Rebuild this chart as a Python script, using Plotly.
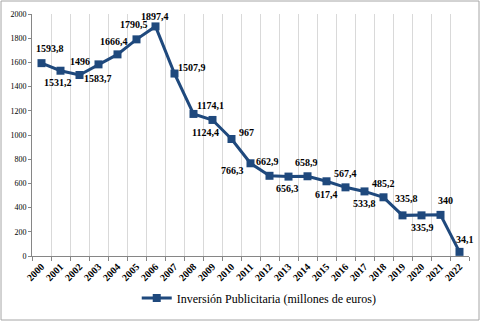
import plotly.graph_objects as go

years = [str(y) for y in range(2000, 2023)]
values = [1593.8, 1531.2, 1496, 1583.7, 1666.4, 1790.5, 1897.4, 1507.9, 1174.1, 1124.4,
          967, 766.3, 662.9, 656.3, 658.9, 617.4, 567.4, 533.8, 485.2, 335.8, 335.9, 340, 34.1]
series_name = "Inversión Publicitaria (millones de euros)"
y_ticks = [0, 200, 400, 600, 800, 1000, 1200, 1400, 1600, 1800, 2000]

# label offsets in pixels (dx right, dy down)
label_offsets = [(8, -15), (-3, 12), (0, -13), (-1, 14), (-4, -13), (-3, -15), (-1, -10),
                 (17, -6), (17, -8), (-7, 13), (15, -6), (-18, 7), (-2, -14), (-1, 12),
                 (-1, -14), (0, 13), (0, -14), (0, 12), (0, -14), (4, -17), (1, 12),
                 (5, -14), (5, -12)]

def fmt(v):
    s = ("%.1f" % v).rstrip("0").rstrip(".")
    return s.replace(".", ",")

FONT = "Liberation Serif, Times New Roman, serif"
COLOR = "#1F497D"

fig = go.Figure()
fig.add_trace(go.Scatter(
    x=years, y=values, mode="lines+markers", name=series_name,
    line=dict(color=COLOR, width=3),
    marker=dict(symbol="square", size=8, color=COLOR),
))

annotations = []
for i, (v, (dx, dy)) in enumerate(zip(values, label_offsets)):
    annotations.append(dict(x=i, y=v, xref="x", yref="y", text="<b>%s</b>" % fmt(v),
                            showarrow=False, xshift=dx, yshift=-dy,
                            font=dict(family=FONT, size=10, color="#000000")))

fig.update_layout(
    width=482, height=322,
    margin=dict(l=32, r=13, t=14, b=66, autoexpand=False),
    paper_bgcolor="white", plot_bgcolor="white",
    font=dict(family=FONT, color="#000000"),
    showlegend=True,
    annotations=annotations,
    shapes=[dict(type="rect", xref="paper", yref="paper", layer="below",
                 x0=-0.0709, x1=1.0229, y0=-0.2645, y1=1.0537,
                 line=dict(color="#A6A6A6", width=1))],
    legend=dict(orientation="h", x=0.52, xanchor="center", y=-0.174, yanchor="middle",
                font=dict(family=FONT, size=12), itemwidth=30),
    xaxis=dict(
        type="category", tickson="boundaries", showgrid=True, gridcolor="#D9D9D9",
        gridwidth=1, showline=True, linecolor="#868686", ticks="outside", ticklen=4,
        tickcolor="#868686", tickangle=-45, automargin=False,
        tickvals=years, ticktext=["<b>%s</b>" % y for y in years],
        tickfont=dict(family=FONT, size=10, color="#000000"),
        range=[-0.5, len(years) - 0.5],
    ),
    yaxis=dict(
        range=[0, 2000], tickvals=y_ticks, showgrid=False, showline=True,
        linecolor="#868686", ticks="outside", ticklen=3, tickcolor="#868686",
        automargin=False,
        tickfont=dict(family=FONT, size=8, color="#000000"), zeroline=False,
    ),
)

fig.write_html("out.html", config={"displayModeBar": False},
               post_script="document.body.style.margin='0';document.body.style.overflow='hidden';")
